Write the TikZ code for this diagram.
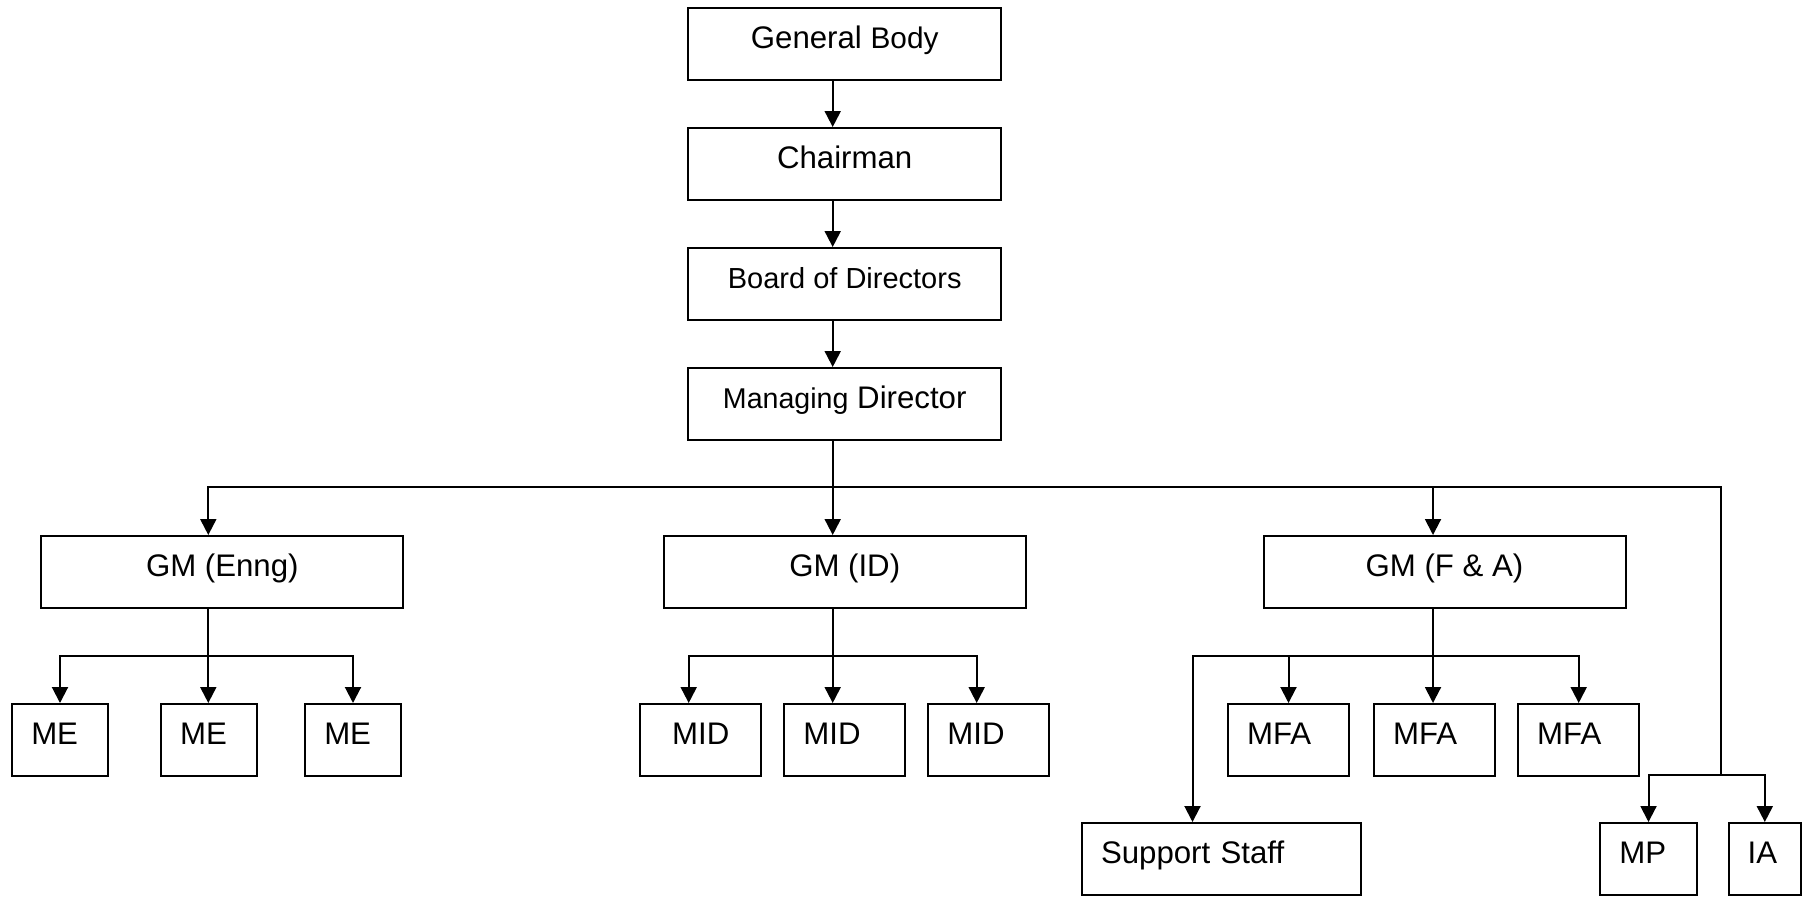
\documentclass[tikz,border=0pt]{standalone}
\usepackage{fontspec}
\setmainfont{Liberation Sans}
\usetikzlibrary{arrows.meta}
\newcommand{\postfont}{\fontsize{15.6pt}{18pt}\selectfont}
\newcommand{\minorfont}{\fontsize{14.3pt}{17pt}\selectfont}
\begin{document}
\begin{tikzpicture}[x=0.5pt, y=-0.5pt, line width=1pt,
      post/.style={draw, inner sep=0pt, minimum height=36pt, text height=11.2pt, text depth=7pt, align=center, font=\postfont},
      top/.style={post, minimum width=156.4pt},
      gm/.style={post, minimum width=181pt},
      staff/.style={post, align=left, inner xsep=9.5pt, text width=#1},
      arr/.style={-{Triangle[length=8pt, width=8pt]}}]
      \useasboundingbox (0,0) rectangle (1809,896);
      \node[top] (gb)  at (844.7,44)  {General {\fontsize{14.9pt}{18pt}\selectfont Body}};
      \node[top] (ch)  at (844.7,164) {Chairman};
      \node[top] (bd)  at (844.7,284) {\fontsize{14.5pt}{17pt}\selectfont Board of Directors};
      \node[top] (md)  at (844.7,404) {{\minorfont Managing} Director};
      \node[gm]  (gme) at (222.3,572) {GM (Enng)};
      \node[gm]  (gid) at (844.7,572) {GM (ID)};
      \node[gm]  (gfa) at (1444.5,572) {GM (F \& A)};
      \node[staff=28.75pt] (me1) at (60,740)  {ME};
      \node[staff=28.75pt] (me2) at (208.8,740) {ME};
      \node[staff=28.75pt] (me3) at (353,740) {ME};
      \node[staff=41.25pt, align=center] (mid1) at (700.7,740) {MID};
      \node[staff=41.25pt] (mid2) at (844.7,740) {MID};
      \node[staff=41.25pt] (mid3) at (988.7,740) {MID};
      \node[staff=41.5pt] (mfa1) at (1288.5,740) {MFA};
      \node[staff=41.5pt] (mfa2) at (1434.5,740) {MFA};
      \node[staff=41.5pt] (mfa3) at (1578.7,740) {MFA};
      \node[staff=120.5pt] (ss) at (1221.5,859) {Support Staff};
      \node[staff=29.2pt]  (mp) at (1648.5,859) {MP};
      \node[staff=17.15pt] (ia) at (1764.8,859) {IA};
      \coordinate (tx) at (832.7,487);
      \coordinate (xr) at (1720.7,487);
      \coordinate (be) at (208.3,656);
      \coordinate (bi) at (832.7,656);
      \coordinate (bf) at (1433,656);
      \coordinate (br) at (1720.7,775.3);
      \draw[arr] ([xshift=-6pt]gb.south) -- ([xshift=-6pt]ch.north);
      \draw[arr] ([xshift=-6pt]ch.south) -- ([xshift=-6pt]bd.north);
      \draw[arr] ([xshift=-6pt]bd.south) -- ([xshift=-6pt]md.north);
      \draw (md.south -| tx) -- (tx) -- (xr) -- (br);
      \draw[arr] (tx) -| ([xshift=-7pt]gme.north);
      \draw[arr] (tx) -- (gid.north -| tx);
      \draw[arr] (tx) -| ([xshift=-5.75pt]gfa.north);
      \draw (gme.south -| be) -- (be);
      \draw[arr] (be) -| (me1.north);
      \draw[arr] (be) -- (me2.north -| be);
      \draw[arr] (be) -| (me3.north);
      \draw (gid.south -| bi) -- (bi);
      \draw[arr] (bi) -| ([xshift=-6pt]mid1.north);
      \draw[arr] (bi) -- (mid2.north -| bi);
      \draw[arr] (bi) -| ([xshift=-6pt]mid3.north);
      \draw (gfa.south -| bf) -- (bf);
      \draw[arr] (bf) -| ([xshift=-14.5pt]ss.north);
      \draw[arr] (bf) -| (mfa1.north);
      \draw[arr] (bf) -- (mfa2.north -| bf);
      \draw[arr] (bf) -| (mfa3.north);
      \draw[arr] (br) -| (mp.north);
      \draw[arr] (br) -| (ia.north);
    \end{tikzpicture}
\end{document}
